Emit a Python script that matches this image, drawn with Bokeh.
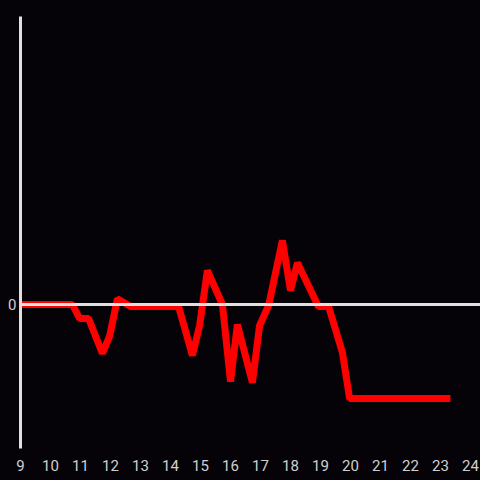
from bokeh.plotting import figure
from bokeh.models import FixedTicker, Span, Range1d
from bokeh.embed import file_html
from bokeh.resources import INLINE

# hours of the day
times = [9.0, 10.73, 10.97, 11.27, 11.73, 11.97, 12.23, 12.67, 14.27, 14.73,
         14.97, 15.23, 15.73, 16.0, 16.23, 16.73, 16.97, 17.27, 17.73, 18.0,
         18.23, 18.93, 19.27, 19.73, 19.97, 23.33]
values = [0.0, 0.0, -0.097, -0.097, -0.34, -0.22, 0.04, -0.014, -0.014, -0.354,
          -0.146, 0.236, 0.0, -0.535, -0.139, -0.542, -0.146, -0.007, 0.444, 0.097,
          0.29, -0.014, -0.014, -0.333, -0.653, -0.653]
x_ticks = list(range(9, 25))
y_ticks = [0]

BG = "#050307"

p = figure(width=480, height=480, output_backend="svg", toolbar_location=None,
           x_range=Range1d(9, 24.333), y_range=Range1d(-1, 2),
           background_fill_color=BG, border_fill_color=BG,
           min_border_left=20, min_border_right=0, min_border_top=16, min_border_bottom=32)
p.outline_line_color = None
p.grid.visible = False

p.xaxis.ticker = FixedTicker(ticks=x_ticks)
p.xaxis.axis_line_color = None
p.xaxis.major_tick_line_color = None
p.xaxis.minor_tick_line_color = None
p.xaxis.major_label_standoff = 5
p.xaxis.major_label_text_color = "#d0d0d0"
p.xaxis.major_label_text_font = "Roboto"
p.xaxis.major_label_text_font_size = "15px"

p.yaxis.ticker = FixedTicker(ticks=y_ticks)
p.yaxis.axis_line_color = "#e0e0e0"
p.yaxis.axis_line_width = 3
p.yaxis.major_tick_line_color = None
p.yaxis.minor_tick_line_color = None
p.yaxis.major_tick_out = 0
p.yaxis.major_label_standoff = 4
p.yaxis.major_label_text_color = "#d0d0d0"
p.yaxis.major_label_text_font = "Roboto"
p.yaxis.major_label_text_font_size = "15px"

zero = Span(location=0, dimension="width", line_color="#e0e0e0", line_width=3)
p.add_layout(zero)

p.line(times, values, line_color="#ff0000", line_width=7)

html = file_html(p, INLINE)
html = html.replace("<head>", "<head><style>body{background:%s;}</style>" % BG, 1)
open("out.html", "w").write(html)
